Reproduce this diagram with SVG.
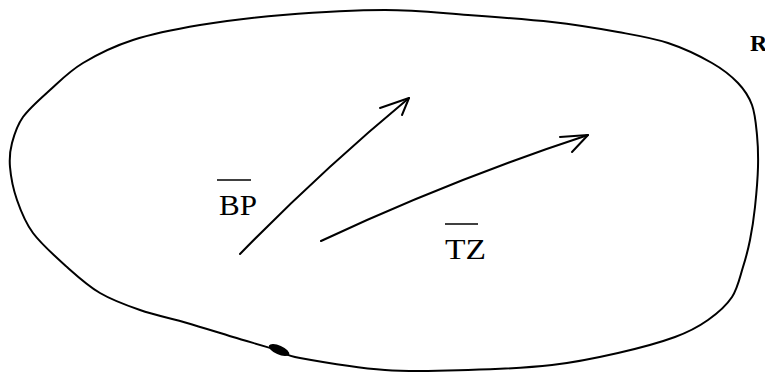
<svg xmlns="http://www.w3.org/2000/svg" width="765" height="373" viewBox="0 0 765 373">
<style>
.ln{fill:none;stroke:#000;stroke-width:2;stroke-linecap:round;stroke-linejoin:round}
.ov{stroke:#000;stroke-width:1.5}
.lbl{font-family:"Liberation Serif","Times New Roman",serif;font-size:30px;fill:#000}
.rl{font-family:"Liberation Serif","Times New Roman",serif;font-weight:bold;font-size:24px;fill:#000}
</style>
<rect width="765" height="373" fill="#fff"/>
<g id="region">
<path class="ln" d="M385,10 C415.8,10 440.2,13 468,15 C495.8,17 527,19.2 552,22 C577,24.8 598.7,28.5 618,32 C637.3,35.5 652.3,37.8 668,43 C683.7,48.2 700.3,56.3 712,63 C723.7,69.7 731.3,76 738,83 C744.7,90 748.8,96.3 752,105 C755.2,113.7 756,124.7 757,135 C758,145.3 758.3,155 758,167 C757.7,179 756.3,194.8 755,207 C753.7,219.2 752,230 750,240 C748,250 746,257.5 743,267 C740,276.5 737.8,288.2 732,297 C726.2,305.8 717.5,313.3 708,320 C698.5,326.7 690,331.5 675,337 C660,342.5 638.5,348.3 618,353 C597.5,357.7 577,362.2 552,365 C527,367.8 495.8,369.2 468,370 C440.2,370.8 413,372 385,370 C357,368 318,361.3 300,358 C282,354.7 288.2,353.5 277,350 C265.8,346.5 248,341.5 233,337 C218,332.5 202.5,327.5 187,323 C171.5,318.5 154.5,315 140,310 C125.5,305 112.2,300.2 100,293 C87.8,285.8 78.2,277 67,267 C55.8,257 41.3,244.2 33,233 C24.7,221.8 20.8,211 17,200 C13.2,189 10.8,176.5 10,167 C9.2,157.5 9.8,151.3 12,143 C14.2,134.7 16.7,125.8 23,117 C29.3,108.2 40,99 50,90 C60,81 69.2,71.3 83,63 C96.8,54.7 113.5,46.3 133,40 C152.5,33.7 175,29.2 200,25 C225,20.8 252.2,17.5 283,15 C313.8,12.5 354.2,10 385,10 Z"/>
<ellipse cx="279" cy="350" rx="11" ry="4.5" transform="rotate(24 279 350)" fill="#000"/>
<text class="rl" x="750" y="51">R</text>
</g>
<g id="connectors">
<path class="ln" d="M240,254 Q321,171 409,98"/>
<path class="ln" d="M380,108 L409,98 L402,115"/>
<path class="ln" d="M321,241 Q451,180 588,135"/>
<path class="ln" d="M560,137 L588,135 L572,152"/>
</g>
<g id="label-BP">
<line class="ov" x1="217" y1="180" x2="251" y2="180"/>
<text class="lbl" x="219" y="215" textLength="38" lengthAdjust="spacingAndGlyphs">BP</text>
</g>
<g id="label-TZ">
<line class="ov" x1="445" y1="224" x2="478" y2="224"/>
<text class="lbl" x="445" y="259" textLength="41" lengthAdjust="spacingAndGlyphs">TZ</text>
</g>
</svg>
